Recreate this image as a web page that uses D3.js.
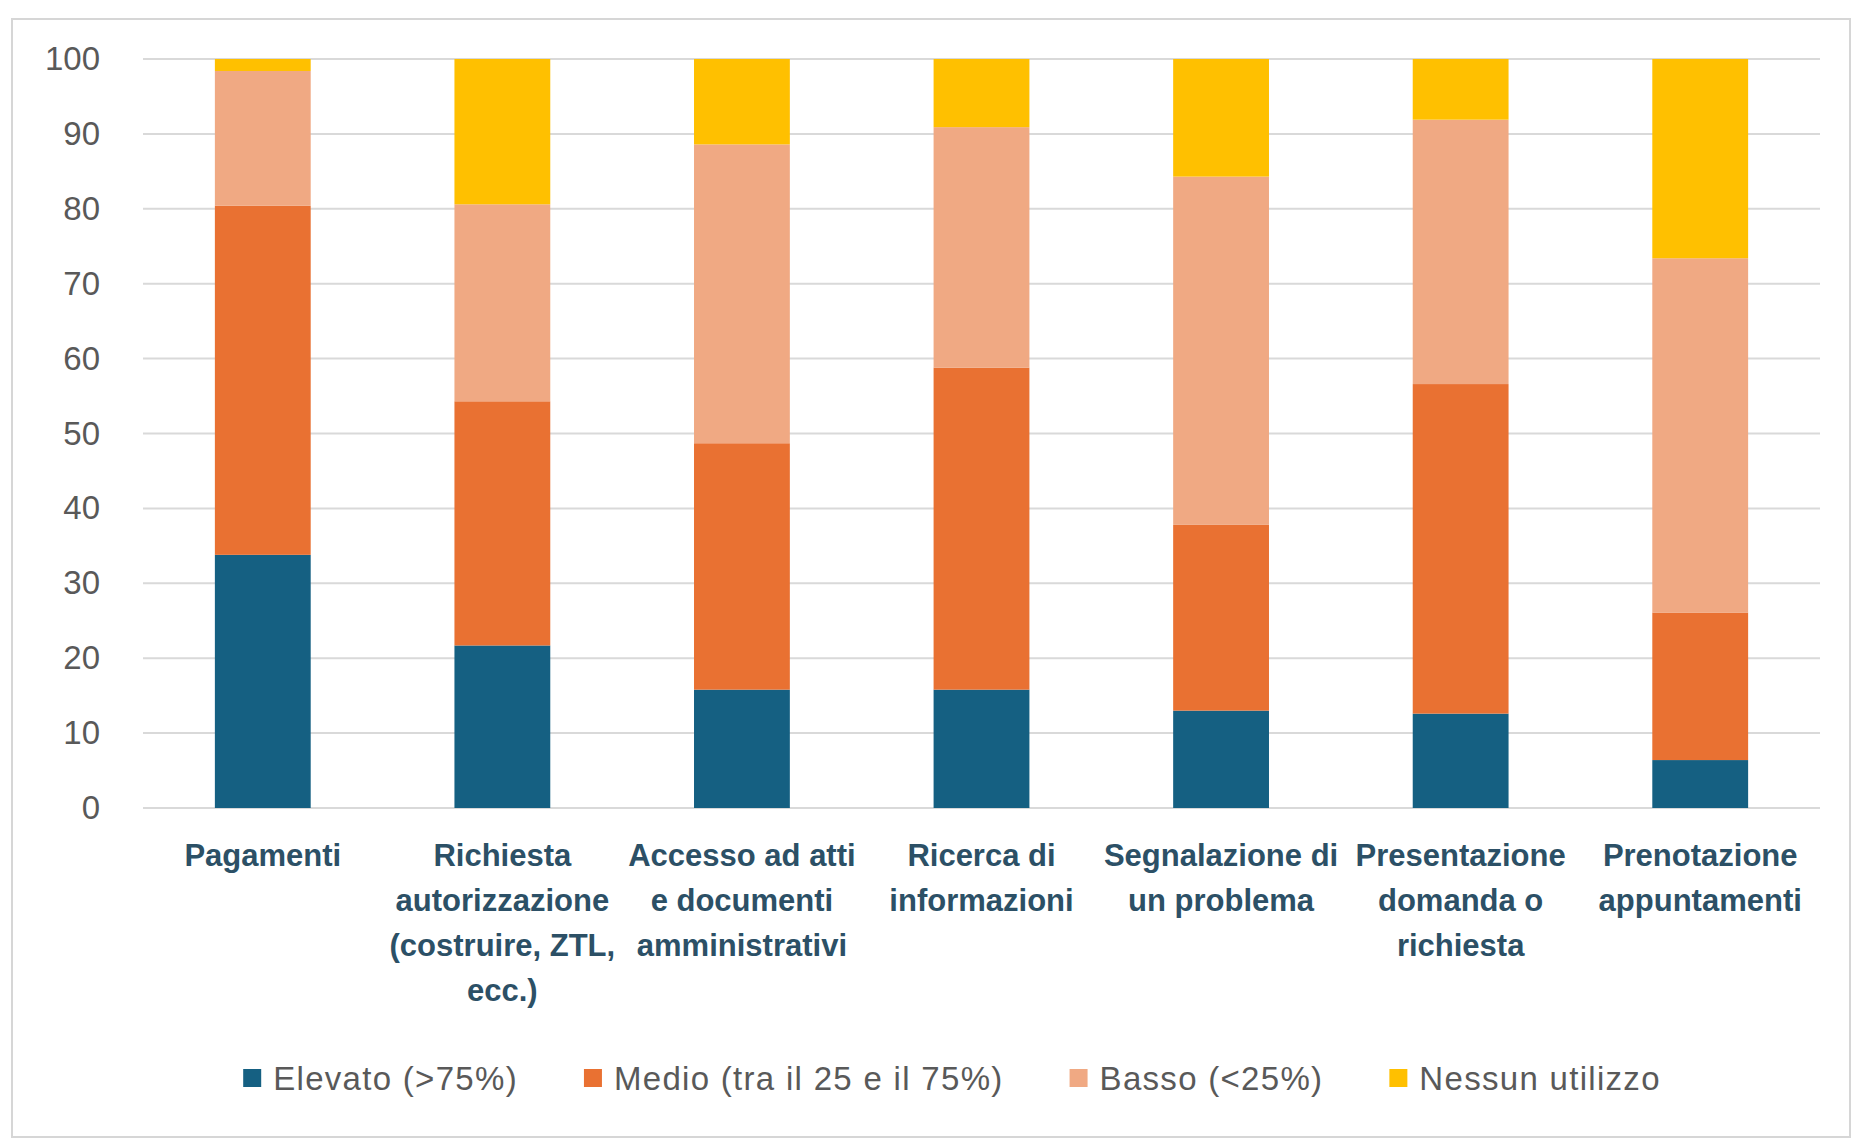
<!DOCTYPE html>
<html>
<head>
<meta charset="utf-8">
<script src="https://d3js.org/d3.v7.min.js"></script>
<style>
  body { margin: 0; background: #fff; }
  svg { display: block; }
  .tick-label { font-family: "Liberation Sans", Arial, sans-serif; font-size: 33px; fill: #595959; }
  .cat-label { font-family: "Liberation Sans", Arial, sans-serif; font-size: 31px; font-weight: bold; fill: #2c5066; }
  .legend-label { font-family: "Liberation Sans", Arial, sans-serif; font-size: 33px; fill: #595959; letter-spacing: 1.3px; }
</style>
</head>
<body>
<svg width="1854" height="1141"></svg>
<script>
// categories (wrapped the way the original labels wrap)
const categories = ['Pagamenti', 'Richiesta', 'Accesso', 'Ricerca', 'Segnalazione', 'Presentazione', 'Prenotazione'];
const categoryLines = [
  ['Pagamenti'],
  ['Richiesta', 'autorizzazione', '(costruire, ZTL,', 'ecc.)'],
  ['Accesso ad atti', 'e documenti', 'amministrativi'],
  ['Ricerca di', 'informazioni'],
  ['Segnalazione di', 'un problema'],
  ['Presentazione', 'domanda o', 'richiesta'],
  ['Prenotazione', 'appuntamenti']
];

// series values (%)
const elevato = [33.8, 21.7, 15.8, 15.8, 13.0, 12.6, 6.4];
const medio   = [46.6, 32.6, 32.9, 43.0, 24.8, 44.0, 19.7];
const basso   = [18.0, 26.3, 39.9, 32.1, 46.5, 35.3, 47.3];
const nessuno = [1.6, 19.4, 11.4, 9.1, 15.7, 8.1, 26.6];

const seriesNames = ['Elevato (>75%)', 'Medio (tra il 25 e il 75%)', 'Basso (<25%)', 'Nessun utilizzo'];
const seriesColors = ['#156082', '#e97132', '#f0a983', '#ffc000'];
const yTicks = [0, 10, 20, 30, 40, 50, 60, 70, 80, 90, 100];

const keys = ['elevato', 'medio', 'basso', 'nessuno'];
const rows = categories.map((c, i) => ({
  cat: c, elevato: elevato[i], medio: medio[i], basso: basso[i], nessuno: nessuno[i]
}));

const svg = d3.select('svg');

// chart frame
svg.append('rect')
  .attr('x', 12).attr('y', 19).attr('width', 1838).attr('height', 1118)
  .attr('fill', 'none').attr('stroke', '#d6d6d6').attr('stroke-width', 2);

const x = d3.scaleBand().domain(categories).range([143, 1820]).paddingInner(0.6).paddingOuter(0.3);
const y = d3.scaleLinear().domain([0, 100]).range([808, 59]);

// gridlines
svg.append('g').selectAll('line').data(yTicks).enter().append('line')
  .attr('x1', 143).attr('x2', 1820)
  .attr('y1', d => y(d)).attr('y2', d => y(d))
  .attr('stroke', '#d9d9d9').attr('stroke-width', 2);

// y axis labels
const yAxis = svg.append('g')
  .attr('transform', 'translate(112,0)')
  .call(d3.axisLeft(y).tickValues(yTicks).tickSize(0).tickPadding(12));
yAxis.select('.domain').remove();
yAxis.selectAll('text').attr('class', 'tick-label').attr('font-size', null).attr('font-family', null).attr('fill', null);

// stacked bars
const stacked = d3.stack().keys(keys)(rows);
svg.append('g').selectAll('g').data(stacked).enter().append('g')
  .attr('fill', (d, i) => seriesColors[i])
  .selectAll('rect').data(d => d).enter().append('rect')
  .attr('x', d => x(d.data.cat))
  .attr('width', x.bandwidth())
  .attr('y', d => y(d[1]))
  .attr('height', d => y(d[0]) - y(d[1]));

// category labels
const catG = svg.append('g');
categories.forEach((c, i) => {
  const t = catG.append('text')
    .attr('class', 'cat-label')
    .attr('text-anchor', 'middle')
    .attr('x', x(c) + x.bandwidth() / 2)
    .attr('y', 866);
  categoryLines[i].forEach((line, j) => {
    t.append('tspan')
      .attr('x', x(c) + x.bandwidth() / 2)
      .attr('dy', j === 0 ? 0 : 45)
      .text(line);
  });
});

// legend, laid out from measured text widths
const legend = svg.append('g');
const items = [];
seriesNames.forEach((name, i) => {
  const g = legend.append('g');
  g.append('rect').attr('width', 18).attr('height', 18).attr('y', -9).attr('fill', seriesColors[i]);
  const t = g.append('text').attr('class', 'legend-label').attr('x', 30).attr('y', 12).text(name);
  items.push({ g: g, w: 30 + t.node().getComputedTextLength() });
});
const gap = 66;
const total = d3.sum(items, d => d.w) + gap * (items.length - 1);
let lx = 952 - total / 2;
items.forEach(it => {
  it.g.attr('transform', 'translate(' + lx + ',1078)');
  lx += it.w + gap;
});
</script>
</body>
</html>
